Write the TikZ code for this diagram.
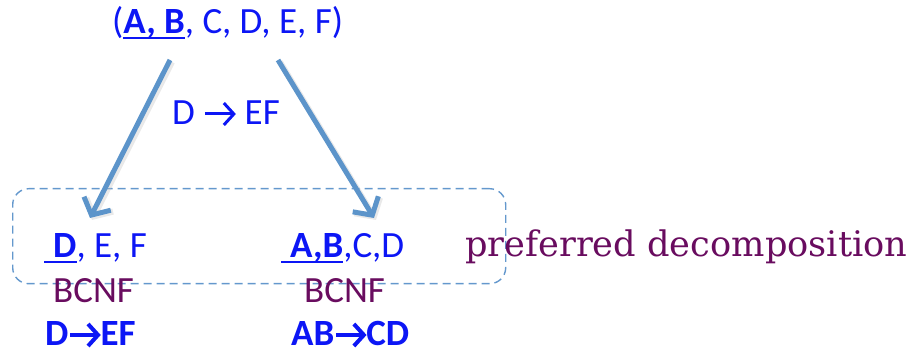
\documentclass[tikz,border=0pt]{standalone}
\usepackage{fontspec}
\setmainfont{Carlito}
\newfontfamily\serifword{DejaVu Serif}
\usetikzlibrary{arrows.meta}
\definecolor{txtblue}{RGB}{12,22,245}
\definecolor{plum}{RGB}{105,12,95}
\definecolor{steel}{RGB}{92,148,202}
\definecolor{dashblue}{RGB}{100,152,205}
\tikzset{
  lbl/.style={anchor=base west, inner sep=0pt, font=\fontsize{37}{37}\selectfont},
  rel/.style={lbl, text=txtblue},
  nf/.style={lbl, text=plum},
  flow/.style={draw=steel, line width=5pt, -{Straight Barb[length=13pt,width=30pt]}},
  flowshadow/.style={draw=black!25, opacity=0.35, line width=6pt, -{Straight Barb[length=13pt,width=30pt]}},
  grouping/.style={draw=dashblue, line width=1.4pt, dash pattern=on 8pt off 5pt, rounded corners=16pt}
}
% key attributes: a thicker underline below the text
\newcommand{\keyline}[1]{\setbox0\hbox{#1}\leavevmode\rlap{\raisebox{-5pt}{\rule{\wd0}{2.4pt}}}\box0}
% chevron-headed arrow used inside the dependency labels: #1 length, #2 stroke
\newcommand{\fdarrow}[2]{\hspace{1.5pt}\tikz[x=1pt,y=1pt,baseline=0pt]{%
  \useasboundingbox (0,0) rectangle (#1,22);
  \draw[txtblue, line width=#2] (0,11) -- (#1-1.5,11);
  \draw[txtblue, line width=#2, line join=miter, miter limit=4] (#1-11,0) -- (#1-1,11) -- (#1-11,22);}\hspace{1.5pt}}
\begin{document}
\begin{tikzpicture}[x=1pt,y=-1pt]
\useasboundingbox (0,0) rectangle (910,352);
% relation being decomposed and the dependency used
\node[rel] (top) at (112,34) {(\keyline{\textbf{A, B}}, C, D, E, F)};
\node[rel] (fd) at (172,125) {D \fdarrow{30}{3pt} EF};
% grouping of the two resulting relations
\node[grouping, minimum width=493pt, minimum height=95pt, anchor=north west, inner sep=0pt] (group) at (12,188) {};
\node[nf, font=\serifword\fontsize{35.2}{35.2}\selectfont] (pref) at (465,257) {preferred decomposition};
% resulting relations
\node[rel] (r1) at (44,258) {\keyline{\hspace{9pt}\textbf{D}}, E, F};
\node[rel] (r2) at (281,258) {\keyline{\hspace{9pt}\textbf{A,B}},C,D};
\node[nf] (n1) at (53,303) {BCNF};
\node[nf] (n2) at (304,303) {BCNF};
\node[rel, font=\bfseries\fontsize{37}{37}\selectfont] (k1) at (45,346) {D\fdarrow{29}{4pt}EF};
\node[rel, font=\bfseries\fontsize{37}{37}\selectfont] (k2) at (291,346) {AB\fdarrow{29}{4pt}CD};
% decomposition arrows
\coordinate (s1) at (170,60);
\coordinate (e1) at (90,218);
\coordinate (s2) at (278,60);
\coordinate (e2) at (374,218);
\draw[flowshadow] ([shift={(2,2)}]s1) -- ([shift={(2,2)}]e1);
\draw[flowshadow] ([shift={(2,2)}]s2) -- ([shift={(2,2)}]e2);
\draw[flow] (s1) -- (e1);
\draw[flow] (s2) -- (e2);
\end{tikzpicture}
\end{document}
